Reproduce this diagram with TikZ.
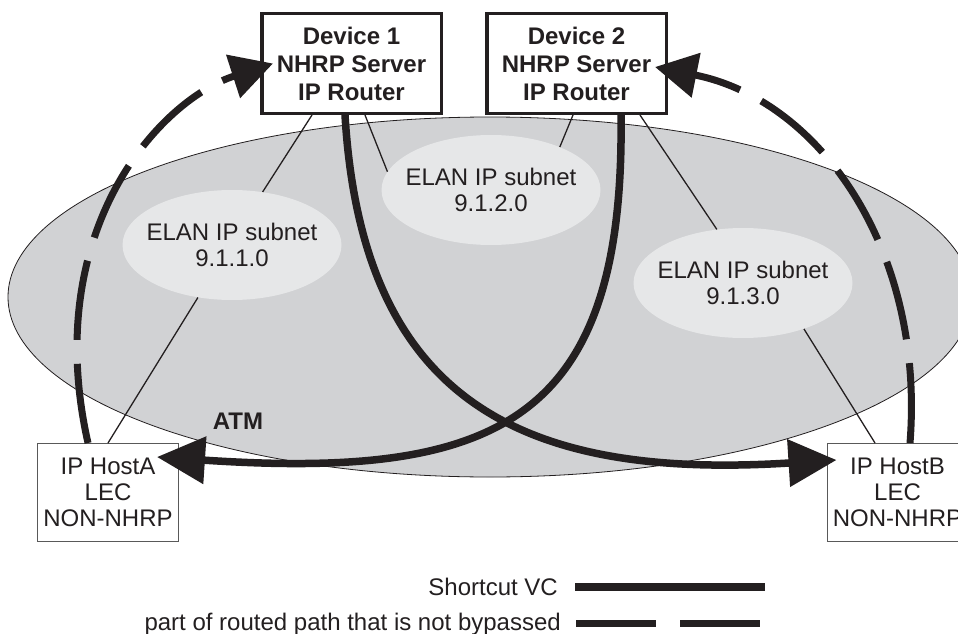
\documentclass[tikz,border=0pt]{standalone}
\usepackage{fontspec}
\setmainfont{Liberation Sans}
\usetikzlibrary{shapes.geometric}
\usetikzlibrary{arrows.meta}
\definecolor{atmgray}{HTML}{D1D2D4}
\definecolor{elangray}{HTML}{E6E7E8}
\definecolor{ink}{HTML}{231F20}

\begin{document}
\begin{tikzpicture}[%
    x=1pt, y=-1pt,
    font=\fontsize{24}{28}\selectfont,
    text=ink,
    device/.style={
      rectangle,
      draw=ink,
      line width=3.5pt,
      fill=white,
      font=\fontsize{24}{28}\selectfont\bfseries,
      align=center,
      minimum width=179.5pt,
      minimum height=99.5pt
    },
    host/.style={
      rectangle,
      draw=black!65,
      line width=1pt,
      fill=white,
      align=center,
      inner sep=0pt,
      font=\fontsize{24}{26}\selectfont,
      minimum width=141pt,
      minimum height=98pt
    },
    atm/.style={ellipse, draw=ink, line width=0.8pt, fill=atmgray,
      inner sep=0pt, minimum width=964pt, minimum height=360pt},
    subnet/.style={ellipse, fill=elangray, inner sep=0pt,
      minimum width=219pt, minimum height=110pt},
    elan/.style={align=center, font=\fontsize{24}{26.5}\selectfont},
    link/.style={draw=ink, line width=1.3pt},
    shortcut/.style={draw=ink, line width=7.5pt,
      -{Triangle[length=48pt,width=46pt]}},
    routed/.style={draw=ink, line width=7pt, dash pattern=on 80pt off 24pt,
      -{Triangle[length=42pt,width=44pt]}}
    ]
    \useasboundingbox (0,0) rectangle (958,634);
    \clip (0,0) rectangle (958,634);

    \draw (490,297) node[atm] (atm) {};
    \draw (232,245) node[subnet, label={[elan]center:{ELAN IP subnet\\9.1.1.0}}] (sub1) {};
    \draw (491,190) node[subnet, label={[elan]center:{ELAN IP subnet\\9.1.2.0}}] (sub2) {};
    \draw (743,283) node[subnet, label={[elan]center:{ELAN IP subnet\\9.1.3.0}}] (sub3) {};
    \draw (238,421) node[font=\fontsize{24}{28}\selectfont\bfseries] (atmlbl) {ATM};

    \draw (351.5,63.5) node[device] (dev1) {Device 1\\NHRP Server\\IP Router};
    \draw (576.5,63.5) node[device] (dev2) {Device 2\\NHRP Server\\IP Router};
    \draw (108,492.5) node[host] (hostA) {IP HostA\\LEC\\NON-NHRP};
    \draw (897.5,492.5) node[host] (hostB) {IP HostB\\LEC\\NON-NHRP};

    \draw[link] ([xshift=-39.5]dev1.south) -- (sub1.60);
    \draw[link] ([xshift=13.5]dev1.south) -- (sub2.170);
    \draw[link] ([xshift=-3.5]dev2.south) -- (sub2.32);
    \draw[link] ([xshift=63.5]dev2.south) -- (sub3.116);
    \draw[link] (sub1.-123) -- (hostA.north);
    \draw[link] (sub3.-37) -- ([xshift=-22.5]hostB.north);

    \draw[shortcut] ([xshift=-6.5]dev1.south) .. controls (362,400) and (520,480) .. ([shift={(10,17)}]hostB.north west);
    \draw[shortcut] ([xshift=44.5]dev2.south) .. controls (625,420) and (500,480) .. ([shift={(-22,14)}]hostA.north east);
    \draw[routed] ([xshift=-20]hostA.north) .. controls (40,230) and (160,100) .. ([xshift=13]dev1.west);
    \draw[routed] ([xshift=12.5]hostB.north) .. controls (925,250) and (820,100) .. ([shift={(-13,3.5)}]dev2.east);

    \draw (558,595) node[anchor=base east, inner sep=0pt] (legsc) {Shortcut VC};
    \draw (561,630) node[anchor=base east, inner sep=0pt] (legrp) {part of routed path that is not bypassed};
    \coordinate (scend) at (765,587);
    \coordinate (rpend) at (761,623);
    \draw[shortcut, -] ([shift={(17,-8)}]legsc.base east) -- (scend);
    \draw[routed, -] ([shift={(15,-7)}]legrp.base east) -- (rpend);
  \end{tikzpicture}
\end{document}
